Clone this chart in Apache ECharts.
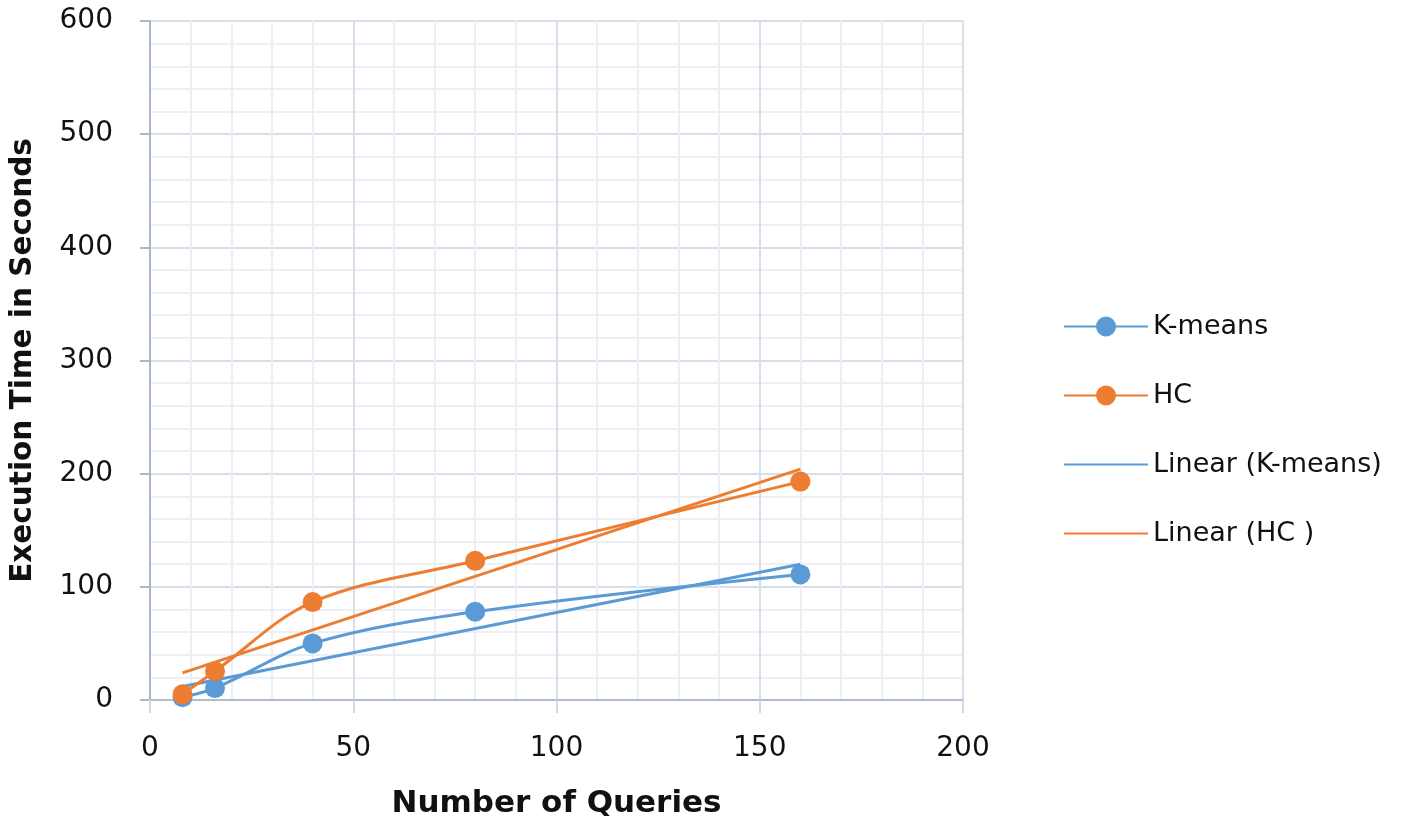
<!DOCTYPE html>
<html><head><meta charset="utf-8">
<script src="https://cdn.jsdelivr.net/npm/echarts@6/dist/echarts.min.js"></script>
<style>html,body{margin:0;padding:0;background:#fff}#c{width:1419px;height:827px}</style>
</head><body><div id="c"></div>
<script>
const queries = [8, 16, 40, 80, 160];
const kmeans = [2.5, 10.5, 50, 78, 111];
const hc = [5, 25.5, 86.5, 123, 193];
const trendX = [8, 160];
const trendKmeans = [12, 120];
const trendHC = [24, 204];
const seriesNames = ['K-means', 'HC', 'Linear (K-means)', 'Linear (HC )'];
const blue = '#5B9BD5', orange = '#ED7D31';
const font = 'DejaVu Sans';
const pairs = (xs, ys) => xs.map((x, i) => [x, ys[i]]);

const chart = echarts.init(document.getElementById('c'), null, {renderer: 'canvas'});
chart.setOption({
  animation: false,
  backgroundColor: '#fff',
  textStyle: {fontFamily: font},
  grid: {left: 150, right: 456, top: 21, bottom: 127, containLabel: false},
  legend: {
    orient: 'vertical', left: 1058, top: 308, itemGap: 42, itemWidth: 84, itemHeight: 25,
    data: seriesNames,
    textStyle: {fontFamily: font, fontSize: 27, color: '#111', lineHeight: 26}
  },
  xAxis: {
    type: 'value', min: 0, max: 200, interval: 50,
    name: 'Number of Queries', nameLocation: 'middle', nameGap: 88,
    nameTextStyle: {fontFamily: font, fontSize: 31, fontWeight: 'bold', color: '#111'},
    axisLine: {show: true, lineStyle: {color: '#b0bdd0', width: 2}},
    axisTick: {show: true, length: 13, lineStyle: {color: '#d0d8e4', width: 2}},
    axisLabel: {margin: 35, fontSize: 28, color: '#111', fontFamily: font},
    splitLine: {show: true, lineStyle: {color: '#d9dfe9', width: 2}},
    minorTick: {show: false, splitNumber: 5},
    minorSplitLine: {show: true, lineStyle: {color: '#eceff5', width: 2}}
  },
  yAxis: {
    type: 'value', min: 0, max: 600, interval: 100,
    name: 'Execution Time in Seconds', nameLocation: 'middle', nameGap: 112,
    nameTextStyle: {fontFamily: font, fontSize: 29.5, fontWeight: 'bold', color: '#111'},
    axisLine: {show: true, lineStyle: {color: '#a9b6cb', width: 2}},
    axisTick: {show: true, length: 10, lineStyle: {color: '#a9b6cb', width: 2}},
    axisLabel: {margin: 37, fontSize: 28, color: '#111', fontFamily: font},
    splitLine: {show: true, lineStyle: {color: '#d9dfe9', width: 2}},
    minorTick: {show: false, splitNumber: 5},
    minorSplitLine: {show: true, lineStyle: {color: '#eceff5', width: 2}}
  },
  series: [
    {name: seriesNames[0], type: 'line', data: pairs(queries, kmeans), smooth: 0.35,
     symbol: 'circle', symbolSize: 20, itemStyle: {color: blue}, lineStyle: {width: 3, color: blue}, z: 4},
    {name: seriesNames[1], type: 'line', data: pairs(queries, hc), smooth: 0.35,
     symbol: 'circle', symbolSize: 20, itemStyle: {color: orange}, lineStyle: {width: 3, color: orange}, z: 4},
    {name: seriesNames[2], type: 'line', data: pairs(trendX, trendKmeans), symbol: 'none',
     itemStyle: {color: 'rgba(0,0,0,0)'}, lineStyle: {width: 3, color: blue}, z: 3},
    {name: seriesNames[3], type: 'line', data: pairs(trendX, trendHC), symbol: 'none',
     itemStyle: {color: 'rgba(0,0,0,0)'}, lineStyle: {width: 3, color: orange}, z: 3}
  ]
});
</script></body></html>
